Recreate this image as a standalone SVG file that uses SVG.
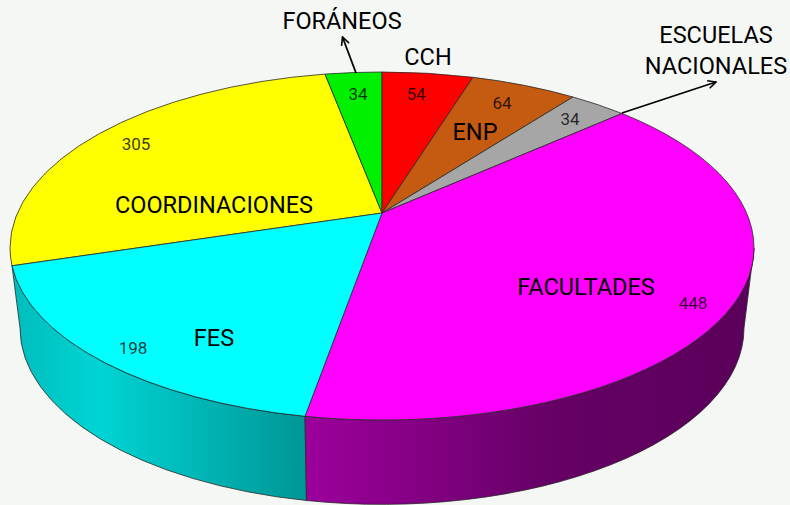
<svg xmlns="http://www.w3.org/2000/svg" width="790" height="505" viewBox="0 0 790 505">
<defs>
<linearGradient id="gCyanSide" gradientUnits="userSpaceOnUse" x1="10" y1="0" x2="306" y2="0">
<stop offset="0" stop-color="#00bcbc"/>
<stop offset="0.3" stop-color="#00d4d4"/>
<stop offset="1" stop-color="#009696"/>
</linearGradient>
<linearGradient id="gMagSide" gradientUnits="userSpaceOnUse" x1="306" y1="0" x2="754" y2="0">
<stop offset="0" stop-color="#9c009c"/>
<stop offset="0.55" stop-color="#660066"/>
<stop offset="1" stop-color="#5a005a"/>
</linearGradient>
<marker id="arr" viewBox="0 0 10 10" refX="9" refY="5" markerWidth="10" markerHeight="10" markerUnits="userSpaceOnUse" orient="auto">
<path d="M1,1 L9,5 L1,9" fill="none" stroke="#000" stroke-width="1.6"/>
</marker>
<style>
.sl{stroke:#2a2a2a;stroke-width:0.8;stroke-linejoin:round}
.big{font-family:Roboto,"Liberation Sans",sans-serif;font-size:23.5px;fill:#000;text-anchor:middle}
.num{font-family:Roboto,"Liberation Sans",sans-serif;font-size:17px;fill:#000;fill-opacity:0.78;text-anchor:middle}
.con{stroke:#000;stroke-width:1.8;fill:none}
</style>
</defs>
<rect width="790" height="505" fill="#f5f7f4"/>
<g id="side-fes">
<path class="sl" fill="url(#gCyanSide)" d="M12,265.8 A372,172 0 0 0 305,416.3 L306.5,500.5 A362,176 0 0 1 20,328 Z"/>
</g>
<g id="side-facultades">
<path class="sl" fill="url(#gMagSide)" d="M305,416.3 A372,172 0 0 0 754,248 L744,328 A362,176 0 0 1 306.5,500.5 Z"/>
</g>
<g id="coordinaciones">
<path class="sl" fill="#ffff00" d="M382,213 L12,265.8 A372,172 0 0 1 10,248 A372,176 0 0 1 325,74.1 Z"/>
<text class="big" x="214" y="213">COORDINACIONES</text>
<text class="num" x="136" y="150">305</text>
</g>
<g id="foraneos">
<path class="sl" fill="#00f000" d="M382,213 L325,74.1 A372,176 0 0 1 382,72 Z"/>
<text class="num" x="358" y="100">34</text>
<text class="big" x="342" y="29">FORÁNEOS</text>
</g>
<g id="cch">
<path class="sl" fill="#ff0000" d="M382,213 L382,72 A372,176 0 0 1 473,77.3 Z"/>
<text class="num" x="416" y="100">54</text>
<text class="big" x="428" y="65">CCH</text>
</g>
<g id="enp">
<path class="sl" fill="#c55a11" d="M382,213 L473,77.3 A372,176 0 0 1 573,97 Z"/>
<text class="num" x="502" y="109">64</text>
<text class="big" x="475" y="140">ENP</text>
</g>
<g id="escuelas-nacionales">
<path class="sl" fill="#a6a6a6" d="M382,213 L573,97 A372,176 0 0 1 622,113.5 Z"/>
<text class="num" x="570" y="125">34</text>
<text class="big" x="716" y="43">ESCUELAS</text>
<text class="big" x="716" y="74">NACIONALES</text>
</g>
<g id="facultades">
<path class="sl" fill="#ff00ff" d="M382,213 L622,113.5 A372,176 0 0 1 754,248 A372,172 0 0 1 305,416.3 Z"/>
<text class="big" x="586" y="295">FACULTADES</text>
<text class="num" x="693" y="309">448</text>
</g>
<g id="fes">
<path class="sl" fill="#00ffff" d="M382,213 L305,416.3 A372,172 0 0 1 12,265.8 Z"/>
<text class="big" x="214" y="346">FES</text>
<text class="num" x="133" y="354">198</text>
</g>
<g id="connectors">
<line class="con" x1="356" y1="73" x2="342.5" y2="37" marker-end="url(#arr)"/>
<line class="con" x1="622" y1="113" x2="716" y2="82" marker-end="url(#arr)"/>
</g>
</svg>
